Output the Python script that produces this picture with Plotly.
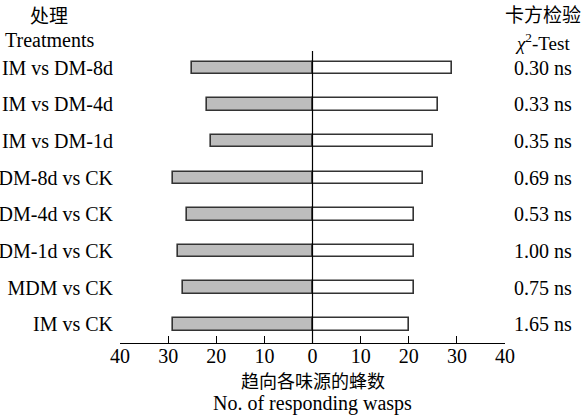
import plotly.graph_objects as go

treatments = ["IM vs DM-8d", "IM vs DM-4d", "IM vs DM-1d", "DM-8d vs CK",
              "DM-4d vs CK", "DM-1d vs CK", "MDM vs CK", "IM vs CK"]
left_counts = [25, 22, 21, 29, 26, 28, 27, 29]
right_counts = [29, 26, 25, 23, 21, 21, 21, 20]
chi_labels = ["0.30 ns", "0.33 ns", "0.35 ns", "0.69 ns",
              "0.53 ns", "1.00 ns", "0.75 ns", "1.65 ns"]
tick_vals = [-40, -30, -20, -10, 0, 10, 20, 30, 40]
tick_text = ["40", "30", "20", "10", "0", "10", "20", "30", "40"]

# bottom-to-top ordering for the y axis
cats = treatments[::-1]
lvals = [-v for v in left_counts[::-1]]
rvals = right_counts[::-1]

SERIF = "Liberation Serif, Times New Roman, serif"
CJK = "Noto Sans CJK SC"

fig = go.Figure()
fig.add_trace(go.Bar(y=cats, x=lvals, orientation="h", width=0.34,
                     marker=dict(color="#bdbdbd", line=dict(color="#333333", width=1.6)),
                     showlegend=False))
fig.add_trace(go.Bar(y=cats, x=rvals, orientation="h", width=0.34,
                     marker=dict(color="white", line=dict(color="#333333", width=1.6)),
                     showlegend=False))

fig.add_shape(type="line", xref="x", yref="paper", x0=0, x1=0, y0=0, y1=1,
              line=dict(color="black", width=1.2), layer="above")

for c, lab in zip(treatments, chi_labels):
    fig.add_annotation(x=1.0987, xref="paper", y=c, yref="y", text=lab,
                       showarrow=False, font=dict(family=SERIF, size=20, color="black"),
                       xanchor="center", yanchor="middle")

ann = [
    ("处理", -0.184, 1.125, CJK, 19),
    ("Treatments", -0.184, 1.038, SERIF, 20),
    ("卡方检验", 1.0987, 1.13, CJK, 19),
    ("<i>χ</i><sup>2</sup>-Test", 1.0987, 1.032, SERIF, 19),
    ("趋向各味源的蜂数", 0.5, -0.128, CJK, 18),
    ("No. of responding wasps", 0.5, -0.208, SERIF, 20),
]
for t, x, y, f, s in ann:
    fig.add_annotation(x=x, y=y, xref="paper", yref="paper", text=t, showarrow=False,
                       font=dict(family=f, size=s, color="black"),
                       xanchor="center", yanchor="middle")

fig.update_layout(
    width=585, height=415,
    margin=dict(l=120, r=80, t=51, b=72, autoexpand=False),
    paper_bgcolor="white", plot_bgcolor="white",
    barmode="overlay",
    bargap=0,
    xaxis=dict(range=[-40, 40], tickvals=tick_vals, ticktext=tick_text,
               showgrid=False, zeroline=False, showline=True, linecolor="black",
               linewidth=1.2, ticks="inside", ticklen=7, tickcolor="black",
               tickwidth=1.2, automargin=False, ticklabelstandoff=-5,
               tickfont=dict(family=SERIF, size=20, color="black")),
    yaxis=dict(range=[-0.51, 7.46], showgrid=False, zeroline=False, showline=False,
               ticks="", ticklabelstandoff=6, automargin=False,
               tickfont=dict(family=SERIF, size=20, color="black")),
)

fig.write_html("out.html", config={"displayModeBar": False},
               post_script="document.body.style.margin='0';")
